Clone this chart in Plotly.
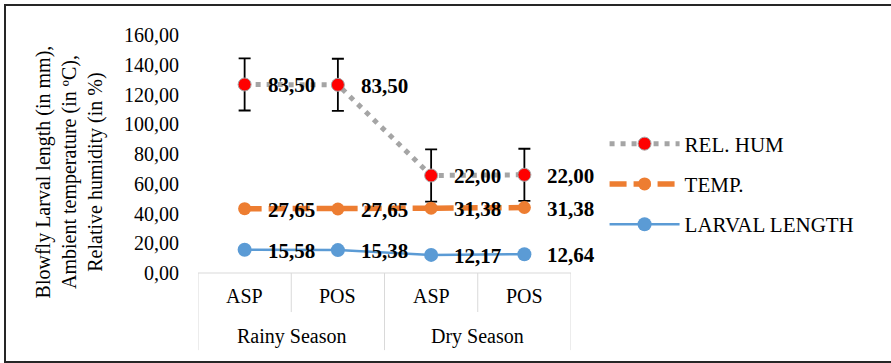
import plotly.graph_objects as go

seasons = ["Rainy Season", "Dry Season"]
periods = ["ASP", "POS", "ASP", "POS"]
larval = [15.58, 15.38, 12.17, 12.64]
temp = [27.65, 27.65, 31.38, 31.38]
relhum = [83.50, 83.50, 22.00, 22.00]
relhum_err = [17.5, 17.5, 17.5, 17.5]
y_ticks = [0, 20, 40, 60, 80, 100, 120, 140, 160]

x = list(range(len(periods)))
# stacked line chart (cumulative values), labels show raw values
s1 = larval
s2 = [a + b for a, b in zip(s1, temp)]
s3 = [a + b for a, b in zip(s2, relhum)]

FONT = "Liberation Serif"
fig = go.Figure()

fig.add_trace(go.Scatter(
    x=x, y=s3, name="REL. HUM", mode="lines+markers", legendgroup="a",
    line=dict(color="#A5A5A5", width=5, dash="5px,6px"),
    marker=dict(color="#FF0000", size=13, line=dict(color="#A5A5A5", width=1)),
    error_y=dict(type="data", array=relhum_err, color="black", thickness=1.8, width=6),
))
fig.add_trace(go.Scatter(
    x=x, y=s2, name="TEMP.", mode="lines+markers", legendgroup="b",
    line=dict(color="#ED7D31", width=5.5, dash="17px,7px"),
    marker=dict(color="#ED7D31", size=13),
))
fig.add_trace(go.Scatter(
    x=x, y=s1, name="LARVAL LENGTH", mode="lines+markers", legendgroup="c",
    line=dict(color="#5B9BD5", width=2.5),
    marker=dict(color="#5B9BD5", size=14),
))

annotations = []
for series, raw in ((s3, relhum), (s2, temp), (s1, larval)):
    for xi, yv, rv in zip(x, series, raw):
        annotations.append(dict(
            x=xi, y=yv, xref="x", yref="y", text=f"{rv:.2f}".replace(".", ","),
            showarrow=False, xanchor="left", yanchor="middle", xshift=21, yshift=-1,
            font=dict(family=FONT, size=21, color="black", weight="bold"),
        ))

# category labels
for xi, p in zip(x, periods):
    annotations.append(dict(x=xi, y=-0.095, xref="x", yref="paper", text=p, showarrow=False,
                            font=dict(family=FONT, size=20, color="black"), yanchor="middle"))
for i, s in enumerate(seasons):
    annotations.append(dict(x=2 * i + 0.5, y=-0.265, xref="x", yref="paper", text=s, showarrow=False,
                            font=dict(family=FONT, size=20, color="black"), yanchor="middle"))

annotations.append(dict(
    x=-0.345, y=0.424, xref="paper", yref="paper", textangle=-90, showarrow=False,
    text="Blowfly Larval length (in mm),<br>Ambient temperature (in ºC),<br>Relative humidity (in %)",
    font=dict(family=FONT, size=20, color="black"), align="center",
    xanchor="center", yanchor="middle",
))

shapes = []
gc = "#D9D9D9"
shapes.append(dict(type="line", xref="x", yref="paper", x0=-0.5, x1=3.5, y0=0, y1=0,
                   line=dict(color=gc, width=1)))
for xb in (-0.5, 1.5, 3.5):
    shapes.append(dict(type="line", xref="x", yref="paper", x0=xb, x1=xb, y0=0, y1=-0.324,
                       line=dict(color=gc, width=1)))
for xb in (0.5, 2.5):
    shapes.append(dict(type="line", xref="x", yref="paper", x0=xb, x1=xb, y0=0, y1=-0.164,
                       line=dict(color=gc, width=1)))
# outer border
pw, ph = 373, 238
shapes.append(dict(type="rect", xref="paper", yref="paper",
                   x0=(5 - 198) / pw, x1=(895 - 198) / pw,
                   y0=(273 - 362) / ph, y1=(273 - 5) / ph,
                   line=dict(color="#262626", width=2)))

fig.update_layout(
    width=891, height=363,
    margin=dict(l=198, r=320, t=35, b=90),
    paper_bgcolor="white", plot_bgcolor="white",
    separators=",.",
    font=dict(family=FONT, size=20, color="black"),
    showlegend=True,
    legend=dict(x=1.09, y=0.374, xanchor="left", yanchor="middle",
                font=dict(family=FONT, size=21, color="black"),
                tracegroupgap=10, itemwidth=70, bgcolor="rgba(0,0,0,0)"),
    xaxis=dict(range=[-0.5, 3.5], showticklabels=False, showgrid=False, zeroline=False,
               showline=False, ticks=""),
    yaxis=dict(range=[0, 160], tickvals=y_ticks, tickformat=".2f", showgrid=False,
               zeroline=False, showline=False, ticks="", ticklabelstandoff=18,
               tickfont=dict(family=FONT, size=20, color="black")),
    annotations=annotations, shapes=shapes,
)

fig.write_html("out.html", config={"displayModeBar": False},
               post_script="document.body.style.margin='0px';")
